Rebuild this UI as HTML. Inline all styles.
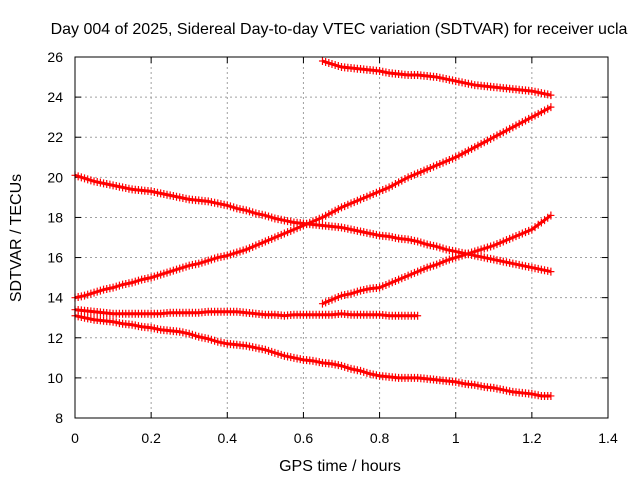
<!DOCTYPE html>
<html><head><meta charset="utf-8"><style>
body{margin:0;background:#fff}
svg{display:block;font-family:"Liberation Sans",sans-serif;font-size:14px}
</style></head><body>
<svg id="chart" width="640" height="480">
<text x="339" y="34" text-anchor="middle" font-size="16">Day 004 of 2025, Sidereal Day-to-day VTEC variation (SDTVAR) for receiver ucla</text>
<text x="340" y="471" text-anchor="middle" font-size="16">GPS time / hours</text>
<text transform="translate(21,238) rotate(-90)" text-anchor="middle" font-size="16">SDTVAR / TECUs</text>
<g id="grid"></g><g id="ticks"></g><g id="series"></g>
<rect x="75" y="57" width="533" height="361" fill="none" stroke="#000"/>
</svg>
<script>
const xTicks=[0,0.2,0.4,0.6,0.8,1,1.2,1.4];
const xTickLabels=["0","0.2","0.4","0.6","0.8","1","1.2","1.4"];
const yTicks=[8,10,12,14,16,18,20,22,24,26];
const seriesA=[20.1,19.95,19.8,19.7,19.6,19.5,19.4,19.35,19.3,19.2,19.1,19.0,18.9,18.85,18.8,18.7,18.6,18.45,18.35,18.2,18.1,17.95,17.85,17.75,17.7,17.65,17.6,17.55,17.5,17.4,17.3,17.2,17.1,17.05,16.95,16.9,16.8,16.65,16.55,16.4,16.3,16.2,16.1,16.0,15.9,15.8,15.7,15.6,15.5,15.4,15.3];
const seriesB=[14.0,14.1,14.25,14.4,14.5,14.65,14.75,14.9,15.0,15.15,15.3,15.45,15.6,15.7,15.85,16.0,16.1,16.25,16.4,16.6,16.8,17.0,17.2,17.4,17.6,17.8,18.0,18.25,18.5,18.7,18.9,19.1,19.3,19.5,19.75,20.0,20.2,20.4,20.6,20.8,21.0,21.25,21.5,21.75,22.0,22.25,22.5,22.75,23.0,23.25,23.5];
const seriesD=[13.1,13.0,12.9,12.85,12.8,12.7,12.65,12.55,12.5,12.4,12.35,12.3,12.2,12.05,11.95,11.8,11.7,11.65,11.6,11.5,11.4,11.25,11.1,11.0,10.9,10.85,10.75,10.7,10.6,10.45,10.35,10.2,10.1,10.05,10.0,10.0,10.0,9.95,9.9,9.85,9.8,9.7,9.65,9.55,9.5,9.4,9.3,9.25,9.2,9.1,9.1];
const seriesC=[13.4,13.35,13.3,13.25,13.2,13.2,13.2,13.2,13.2,13.2,13.25,13.25,13.25,13.25,13.3,13.3,13.3,13.3,13.25,13.2,13.15,13.15,13.1,13.15,13.15,13.15,13.15,13.15,13.2,13.15,13.15,13.15,13.15,13.1,13.1,13.1,13.1];
const seriesE=[13.7,13.9,14.1,14.2,14.35,14.45,14.5,14.7,14.9,15.1,15.3,15.5,15.65,15.85,16.0,16.15,16.3,16.45,16.6,16.8,17.0,17.2,17.4,17.75,18.1];
const seriesF=[25.8,25.65,25.5,25.45,25.4,25.35,25.3,25.2,25.15,25.1,25.1,25.05,25.0,24.9,24.8,24.7,24.6,24.55,24.5,24.45,24.4,24.35,24.3,24.2,24.1];
const seriesStart=[0,0,0,0,0.65,0.65];
const STEP=0.025;
const NS='http://www.w3.org/2000/svg';
const X=v=>75+v/1.4*533, Y=v=>418-(v-8)/18*361;
function mk(t,a,p){const e=document.createElementNS(NS,t);for(const k in a)e.setAttribute(k,a[k]);p.appendChild(e);return e;}
const grid=document.getElementById('grid'),ticks=document.getElementById('ticks'),ser=document.getElementById('series');
xTicks.forEach((v,i)=>{
 if(i>0&&i<xTicks.length-1){const g=mk('line',{x1:X(v),x2:X(v),y1:57,y2:418,stroke:'#a0a0a0','stroke-dasharray':'2,3'},grid);
 
 }
 mk('line',{x1:X(v),x2:X(v),y1:418,y2:412,stroke:'#000'},ticks);
 mk('line',{x1:X(v),x2:X(v),y1:57,y2:63,stroke:'#000'},ticks);
 const t=mk('text',{x:X(v),y:443,'text-anchor':'middle'},ticks);t.textContent=xTickLabels[i];
 
 
});
yTicks.forEach((v,i)=>{
 if(i>0&&i<yTicks.length-1){const g=mk('line',{x1:75,x2:608,y1:Y(v),y2:Y(v),stroke:'#a0a0a0','stroke-dasharray':'2,3'},grid);
 
 }
 mk('line',{x1:75,x2:81,y1:Y(v),y2:Y(v),stroke:'#000'},ticks);
 mk('line',{x1:608,x2:602,y1:Y(v),y2:Y(v),stroke:'#000'},ticks);
 const t=mk('text',{x:63,y:Y(v)+5,'text-anchor':'end'},ticks);t.textContent=String(v);
 
 
});
[seriesA,seriesB,seriesC,seriesD,seriesE,seriesF].forEach((s,si)=>{
 const g=mk('g',{},ser);
 
 
 const pts=s.map((v,i)=>[X(seriesStart[si]+i*STEP),Y(v)]);
 mk('polyline',{points:pts.map(p=>p.join(',')).join(' '),fill:'none',stroke:'#f00','stroke-width':3},g);
 let d='';
 pts.forEach((p,i)=>{
  d+=`M${p[0]-3.5},${p[1]}h7M${p[0]},${p[1]-4}v8`;
  if(i<pts.length-1){const q=pts[i+1];
   for(let k=1;k<3;k++){const mx=p[0]+(q[0]-p[0])*k/3,my=p[1]+(q[1]-p[1])*k/3;d+=`M${mx},${my-4}v8`;}}
 });
 mk('path',{d:d,stroke:'#f00','stroke-width':1.2,fill:'none'},g);
});
</script>
</body></html>
